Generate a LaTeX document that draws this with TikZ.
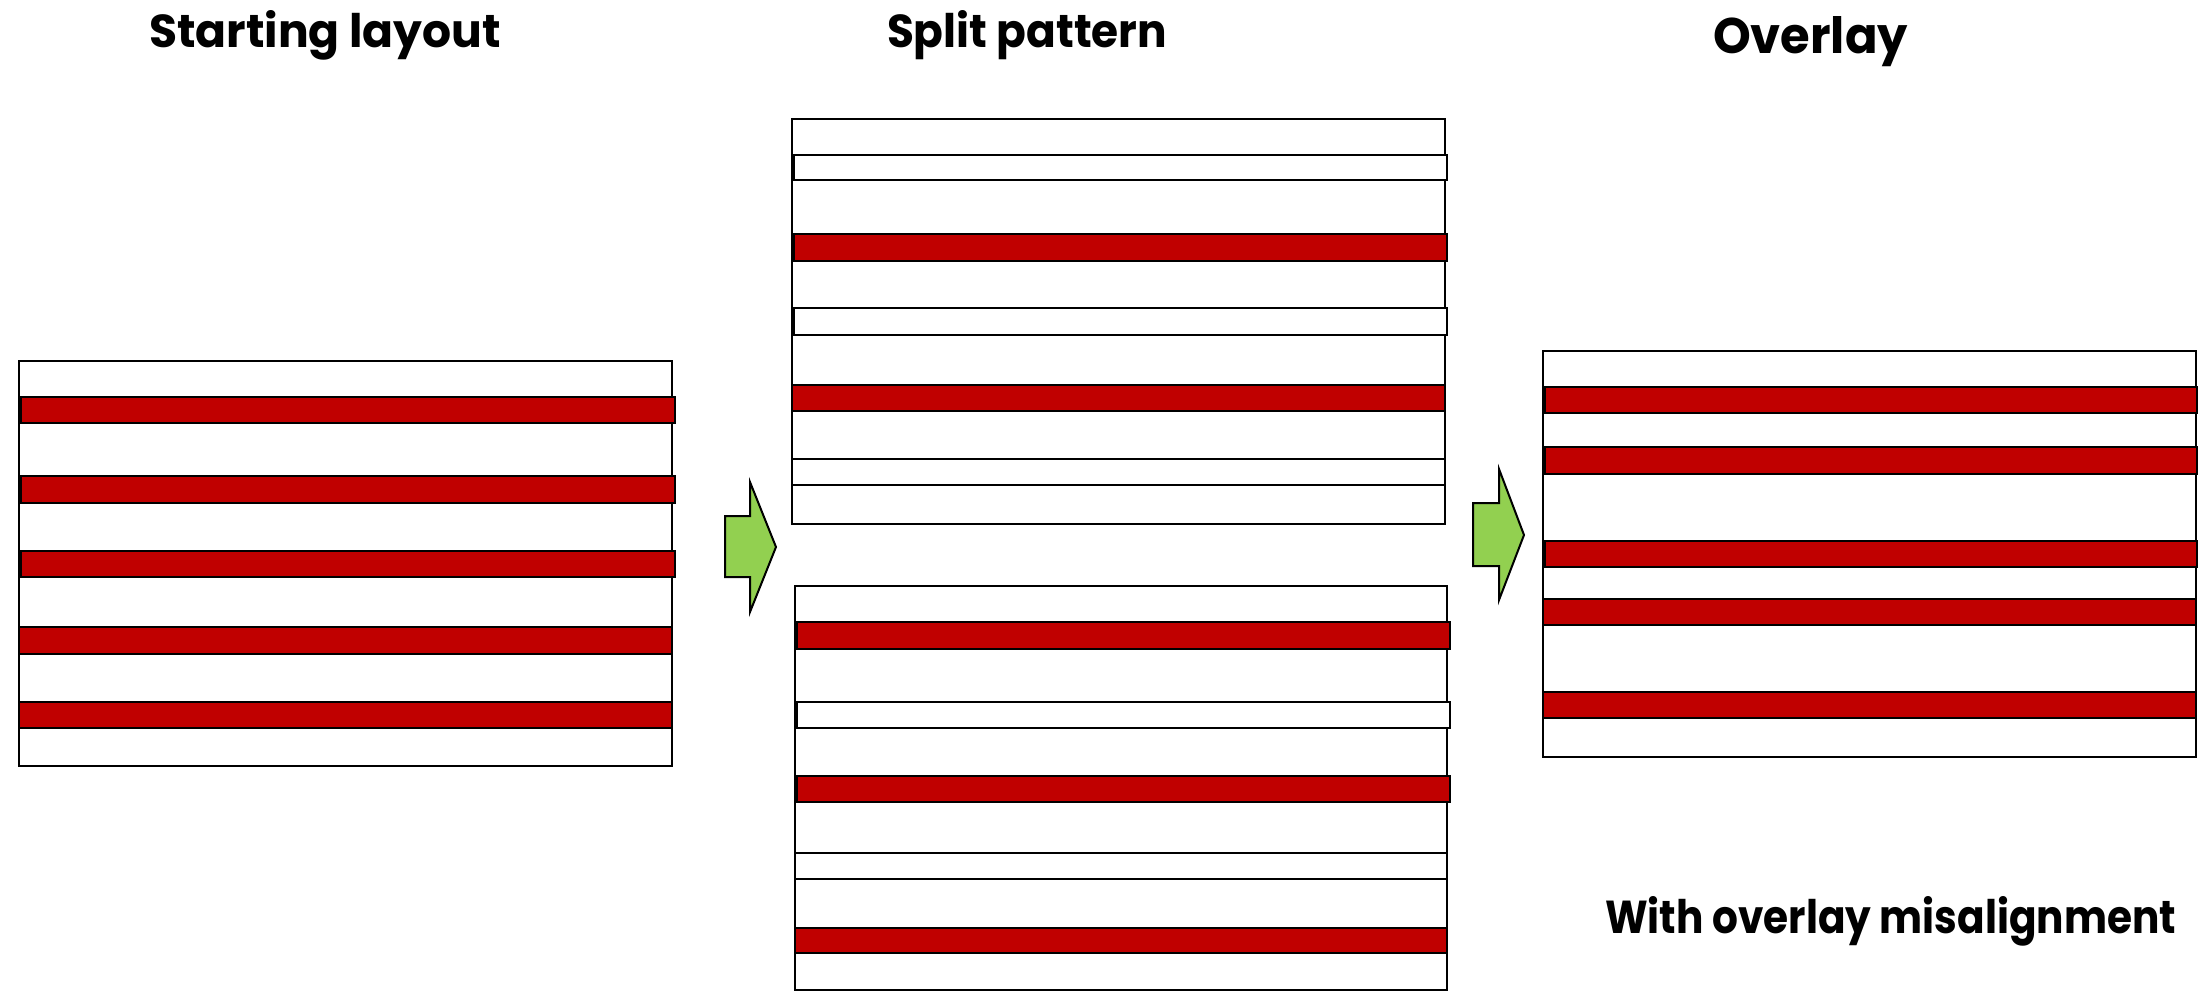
\documentclass[tikz,border=0pt]{standalone}
\usepackage{fontspec}
\setmainfont{Poppins}
\usepackage{graphicx}
\definecolor{barred}{HTML}{C00000}
\definecolor{arrgreen}{HTML}{92D050}
\newcommand{\ttl}[3]{\resizebox{#1}{#2}{\bfseries #3}}
\tikzset{
  panel/.style={draw=black, line width=2pt, fill=white},
  redbar/.style={draw=black, line width=2pt, fill=barred},
  whitebar/.style={draw=black, line width=2pt, fill=white},
  garrow/.style={draw=black, line width=2pt, fill=arrgreen, line join=miter},
  title/.style={anchor=base west, inner sep=0pt, outer sep=0pt}
}
\begin{document}
\begin{tikzpicture}[x=1pt,y=-1pt]
\useasboundingbox (0,0) rectangle (2198,992);
% titles
\node[title] (t1) at (149,48) {\ttl{352pt}{37pt}{Starting layout}};
\node[title] (t2) at (887,48) {\ttl{280pt}{37pt}{Split pattern}};
\node[title] (t3) at (1713,54) {\ttl{195pt}{37pt}{Overlay}};
\node[title] (t4) at (1605,933) {\ttl{571pt}{37pt}{With overlay misalignment}};
% panel 1: starting layout
\draw[panel] (19,361) rectangle (672,766);
\draw[redbar] (21,397) rectangle (675,423);
\draw[redbar] (21,476) rectangle (675,503);
\draw[redbar] (21,551) rectangle (675,577);
\draw[redbar] (19,627) rectangle (672,654);
\draw[redbar] (19,702) rectangle (672,728);
% panel 2a
\draw[panel] (792,119) rectangle (1445,524);
\draw[whitebar] (794,155) rectangle (1447,180);
\draw[redbar] (794,234) rectangle (1447,261);
\draw[whitebar] (794,308) rectangle (1447,335);
\draw[redbar] (792,385) rectangle (1445,411);
\draw[whitebar] (792,459) rectangle (1445,485);
% panel 2b
\draw[panel] (795,586) rectangle (1447,990);
\draw[redbar] (797,622) rectangle (1450,649);
\draw[whitebar] (797,702) rectangle (1450,728);
\draw[redbar] (797,776) rectangle (1450,802);
\draw[whitebar] (795,853) rectangle (1447,879);
\draw[redbar] (795,928) rectangle (1447,953);
% panel 3: overlay
\draw[panel] (1543,351) rectangle (2196,757);
\draw[redbar] (1545,387) rectangle (2197,413);
\draw[redbar] (1545,447) rectangle (2197,474);
\draw[redbar] (1545,541) rectangle (2197,567);
\draw[redbar] (1543,599) rectangle (2196,625);
\draw[redbar] (1543,692) rectangle (2196,718);
% arrows
\draw[garrow] (725,516) -- (750,516) -- (750,482) -- (776,547) -- (750,612) -- (750,577) -- (725,577) -- cycle;
\draw[garrow] (1473,503) -- (1499,503) -- (1499,469) -- (1524,535) -- (1499,600) -- (1499,566) -- (1473,566) -- cycle;
\end{tikzpicture}
\end{document}
